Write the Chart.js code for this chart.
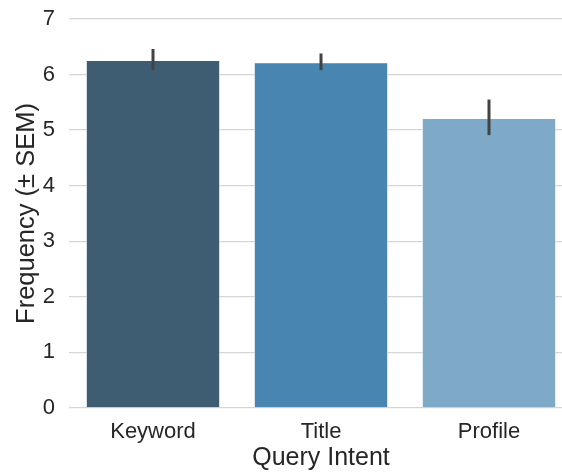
<!DOCTYPE html>
<html>
<head>
<meta charset="utf-8">
<script src="https://cdn.jsdelivr.net/npm/chart.js@4/dist/chart.umd.min.js"></script>
<style>
  html, body { margin: 0; padding: 0; overflow: hidden; background: #fff; }
  .wrap { width: 573px; height: 475px; }
</style>
</head>
<body>
<div class="wrap"><canvas class="intent-chart"></canvas></div>
<script>
const categories = ['Keyword', 'Title', 'Profile'];
const means = [6.26, 6.22, 5.22];
const errLow = [6.08, 6.08, 4.91];
const errHigh = [6.46, 6.38, 5.55];
const barColors = ['rgb(62,93,115)', 'rgb(72,133,176)', 'rgb(126,170,200)'];
const yTicks = [0, 1, 2, 3, 4, 5, 6, 7];

// draws the SEM whiskers on top of the bars
const errorBars = {
  id: 'errorBars',
  afterDatasetsDraw (chart) {
    const { ctx, scales: { x, y } } = chart;
    ctx.save();
    ctx.strokeStyle = '#424242';
    ctx.lineWidth = 3;
    categories.forEach((c, i) => {
      const px = x.getPixelForValue(i);
      ctx.beginPath();
      ctx.moveTo(px, y.getPixelForValue(errLow[i]));
      ctx.lineTo(px, y.getPixelForValue(errHigh[i]));
      ctx.stroke();
    });
    ctx.restore();
  }
};

function displayIntentChart () {
  const ctx = document.querySelector('.intent-chart');
  const font = { family: '"Liberation Sans", Arial, sans-serif' };

  new Chart(ctx, {
    type: 'bar',
    data: {
      labels: categories,
      datasets: [{
        data: means,
        backgroundColor: barColors,
        borderColor: 'rgba(255,255,255,0.6)',
        borderWidth: 1,
        barPercentage: 0.8,
        categoryPercentage: 1
      }]
    },
    options: {
      animation: false,
      maintainAspectRatio: false,
      responsive: true,
      layout: { padding: { top: 19, left: 12, right: 0, bottom: 2 } },
      plugins: { legend: { display: false }, tooltip: { enabled: false } },
      scales: {
        x: {
          grid: { display: false },
          border: { display: false },
          ticks: { color: '#262626', font: { ...font, size: 22 }, padding: 3 },
          title: { display: true, text: 'Query Intent', color: '#262626', font: { ...font, size: 25 }, padding: { top: 0, bottom: 0 } },
          afterFit (axis) { axis.height = 65; axis.paddingLeft = 0; axis.paddingRight = 0; }
        },
        y: {
          min: 0,
          max: 7,
          afterBuildTicks (axis) { axis.ticks = yTicks.map(v => ({ value: v })); },
          grid: { color: '#d5d5d5', lineWidth: 1.3, drawTicks: false },
          border: { display: false },
          ticks: { color: '#262626', font: { ...font, size: 22 }, padding: 14 },
          title: { display: true, text: 'Frequency (± SEM)', color: '#262626', font: { ...font, size: 25.5 }, padding: { top: 0, bottom: 0 } },
          afterFit (axis) { axis.width = 57; axis.paddingTop = 0; axis.paddingBottom = 0; }
        }
      }
    },
    plugins: [errorBars]
  });
}

displayIntentChart();
</script>
</body>
</html>
